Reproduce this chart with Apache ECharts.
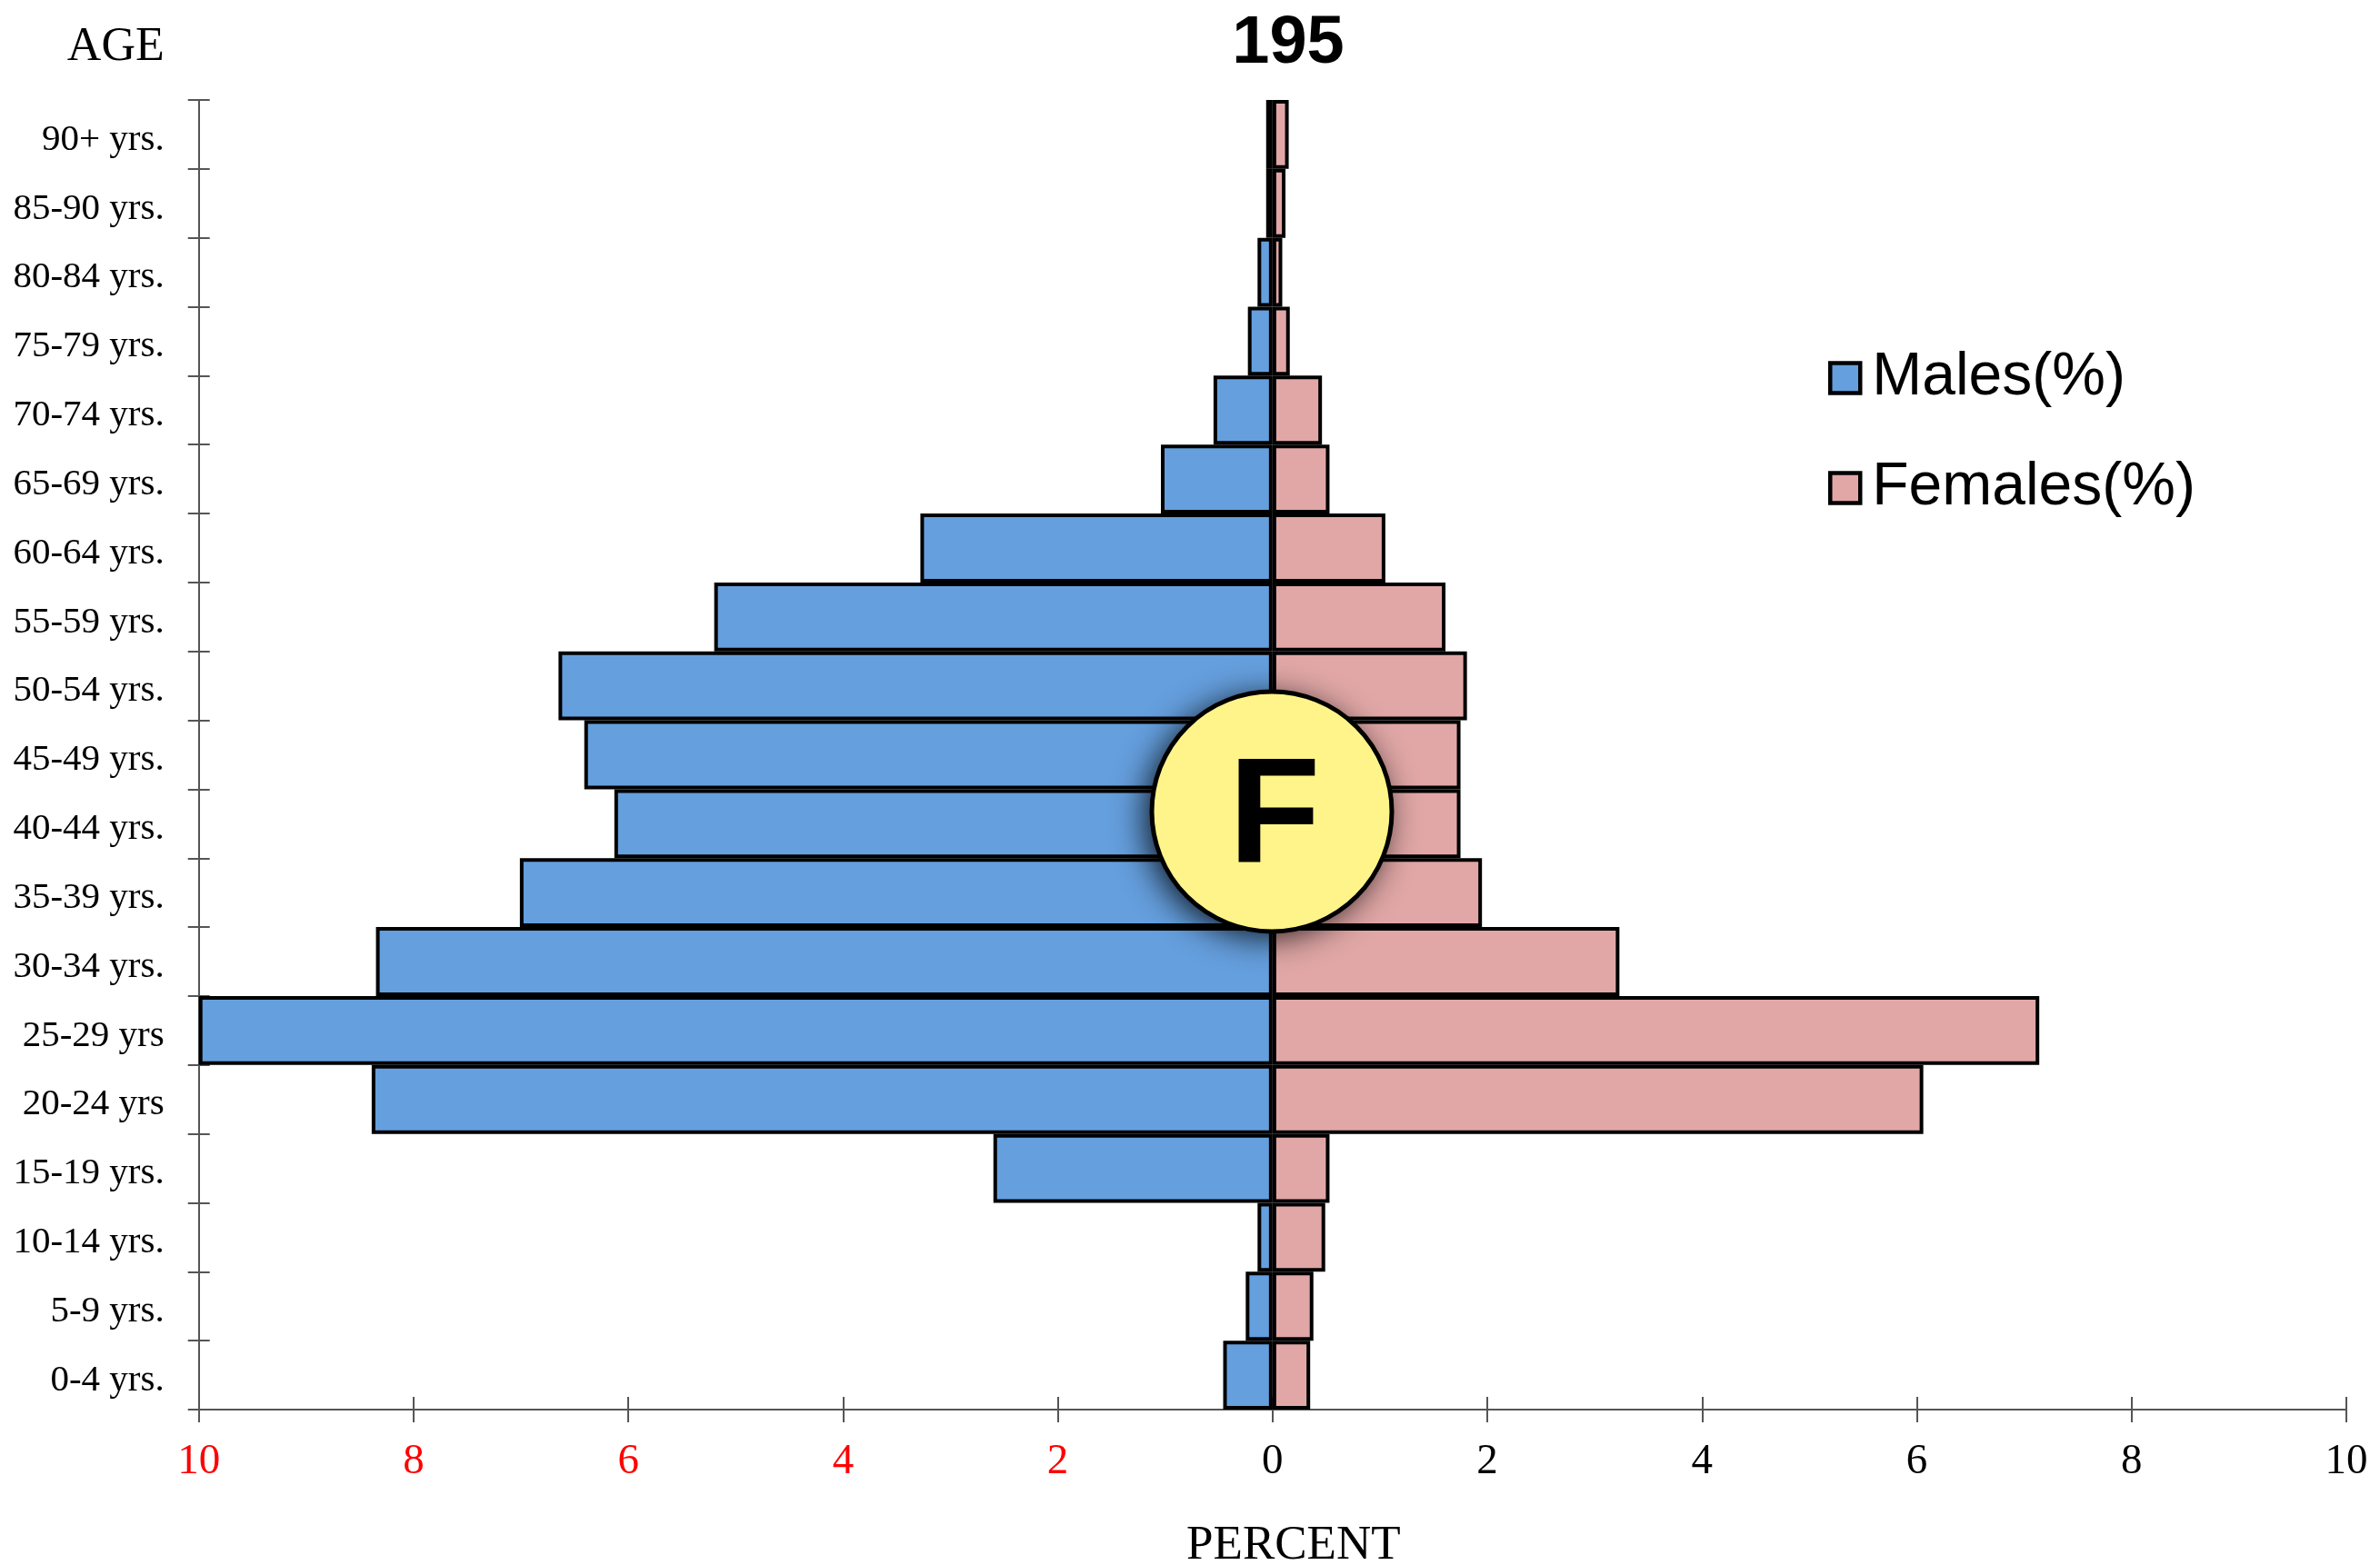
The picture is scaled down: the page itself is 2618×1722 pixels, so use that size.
<!DOCTYPE html>
<html>
<head>
<meta charset="utf-8">
<style>html,body{margin:0;padding:0;background:#fff}#c{width:2618px;height:1722px}</style>
<script src="https://cdn.jsdelivr.net/npm/echarts@6/dist/echarts.min.js"></script>
</head>
<body>
<div id="c"></div>
<script>
const categories = ['0-4 yrs.','5-9 yrs.','10-14 yrs.','15-19 yrs.','20-24 yrs','25-29 yrs','30-34 yrs.','35-39 yrs.','40-44 yrs.','45-49 yrs.','50-54 yrs.','55-59 yrs.','60-64 yrs.','65-69 yrs.','70-74 yrs.','75-79 yrs.','80-84 yrs.','85-90 yrs.','90+ yrs.'];
const malesPct = [0.46,0.25,0.14,2.6,8.39,10,8.35,7.01,6.13,6.41,6.65,5.2,3.28,1.04,0.55,0.23,0.14,0.06,0.06];
const femalesPct = [0.35,0.38,0.49,0.53,6.06,7.14,3.23,1.95,1.75,1.75,1.81,1.61,1.05,0.53,0.46,0.16,0.09,0.12,0.15];
const axisMin = -10, axisMax = 10, axisStep = 2;

const serif = '"Liberation Serif","Times New Roman",serif';
const sans = '"Liberation Sans",Arial,sans-serif';
const axisLine = {show:true,onZero:false,lineStyle:{color:'#555',width:2}};
const gridBox = {left:218.7,right:37,top:110,bottom:171,outerBoundsMode:'none'};
const chart = echarts.init(document.getElementById('c'),null,{renderer:'canvas'});
chart.setOption({
  backgroundColor:'#fff',
  animation:false,
  title:{text:'195',left:1412,top:44,textAlign:'center',textVerticalAlign:'middle',
    textStyle:{fontFamily:sans,fontWeight:'bold',fontSize:74,color:'#000'}},
  legend:{orient:'vertical',left:2006,top:378,itemWidth:33,itemHeight:33,itemGap:55,
    icon:'rect',itemStyle:{borderWidth:4.5},
    textStyle:{fontFamily:sans,fontSize:66,color:'#000',padding:[0,0,0,8]},
    data:['Males(%)','Females(%)']},
  grid:[gridBox,gridBox],
  xAxis:[
    {type:'value',gridIndex:0,min:axisMin,max:axisMax,interval:axisStep,position:'bottom',
     name:'PERCENT',nameLocation:'middle',nameGap:124,
     nameTextStyle:{fontFamily:serif,fontSize:53,color:'#000',padding:[0,0,0,46]},
     splitLine:{show:false},axisLine:axisLine,
     axisTick:{show:true,length:14,lineStyle:{color:'#555',width:2}},
     axisLabel:{margin:34,fontFamily:serif,fontSize:47,
       color:v=>v<0?'#f00':'#000',
       formatter:v=>String(Math.abs(v))}},
    {type:'value',gridIndex:1,min:axisMin,max:axisMax,interval:axisStep,position:'bottom',
     splitLine:{show:false},axisLine:{show:false,onZero:false},
     axisTick:{show:true,inside:true,length:14,lineStyle:{color:'#555',width:2}},
     axisLabel:{show:false}}
  ],
  yAxis:[
    {type:'category',gridIndex:0,data:categories,position:'left',
     name:'AGE',nameLocation:'end',nameGap:32,
     nameTextStyle:{fontFamily:serif,fontSize:52,color:'#000',align:'right',padding:[0,38,0,0]},
     axisLine:axisLine,
     axisTick:{show:true,length:12,lineStyle:{color:'#555',width:2}},
     axisLabel:{margin:38,interval:0,formatter:v=>'{a|'+v+'}',
       rich:{a:{fontFamily:serif,fontSize:41,color:'#000',padding:[12,0,0,0]}}}},
    {type:'category',gridIndex:1,data:categories,position:'left',
     axisLine:{show:false,onZero:false},
     axisTick:{show:true,inside:true,length:12,lineStyle:{color:'#555',width:2}},
     axisLabel:{show:false}}
  ],
  series:[
    {name:'Males(%)',type:'bar',stack:'pop',barWidth:'100%',xAxisIndex:0,yAxisIndex:0,
     data:malesPct.map(v=>-v),
     itemStyle:{color:'#659FDE',borderColor:'#000',borderWidth:4}},
    {name:'Females(%)',type:'bar',stack:'pop',barWidth:'100%',xAxisIndex:0,yAxisIndex:0,
     data:femalesPct,
     itemStyle:{color:'#E0A7A6',borderColor:'#000',borderWidth:4}}
  ],
  graphic:[
    {type:'circle',z:100,shape:{cx:1399,cy:893,r:132},
     style:{fill:'#000',shadowBlur:36,shadowColor:'rgba(0,0,0,0.85)',shadowOffsetX:-7,shadowOffsetY:6}},
    {type:'circle',z:101,shape:{cx:1399,cy:893,r:132},
     style:{fill:'#FFF48A',stroke:'#000',lineWidth:5}},
    {type:'text',z:102,x:1402,y:903,
     style:{text:'F',fill:'#000',fontFamily:sans,fontWeight:'bold',fontSize:165,align:'center',verticalAlign:'middle'}}
  ]
});
</script>
</body>
</html>
